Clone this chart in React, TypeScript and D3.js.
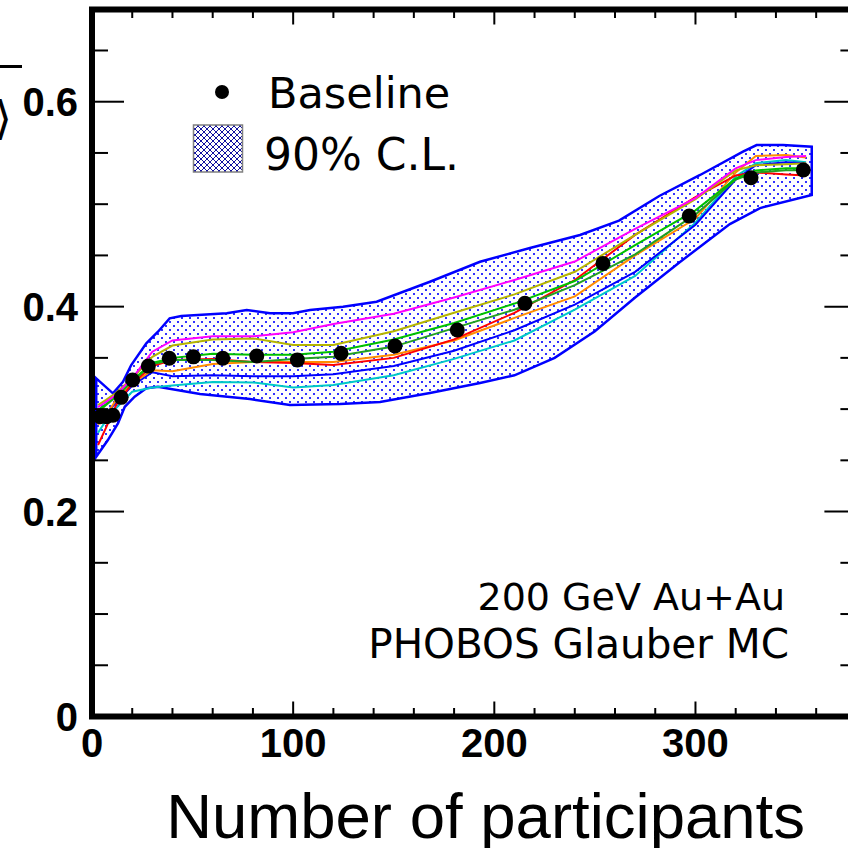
import React from "react";
import * as d3 from "d3";

// ---------- data ----------
const baselineN = [4.0, 7.2, 10.4, 14.5, 20.2, 28.0, 38.4, 50.4, 65.0, 81.9, 102.1, 123.8, 150.6, 181.6, 215.2, 254.0, 296.9, 327.6, 353.6];
const baselineV = [0.2926, 0.2926, 0.294, 0.3115, 0.3284, 0.342, 0.3496, 0.351, 0.3496, 0.3518, 0.348, 0.3544, 0.3616, 0.3772, 0.4032, 0.4422, 0.4884, 0.5258, 0.5334];

const bandUpperN = [2.1, 10.4, 15.4, 19.5, 27.0, 32.8, 38.6, 44.4, 67.0, 76.9, 88.5, 99.9, 108.4, 124.8, 141.5, 168.0, 192.9, 217.7, 242.6, 262.0, 282.0, 302.3, 323.6, 330.4, 343.5, 357.8];
const bandUpperV = [0.330, 0.3154, 0.3267, 0.343, 0.3642, 0.3755, 0.3886, 0.3908, 0.3935, 0.3967, 0.3935, 0.3935, 0.3967, 0.400, 0.4048, 0.4243, 0.4438, 0.4572, 0.4699, 0.4840, 0.5080, 0.5285, 0.5512, 0.5577, 0.5577, 0.5561];
const bandLowerN = [2.1, 7.9, 12.9, 16.3, 21.2, 27.0, 32.8, 53.7, 78.5, 98.4, 123.3, 143.2, 168.0, 192.9, 210.0, 230.0, 250.0, 270.0, 292.3, 317.1, 332.1, 357.8];
const bandLowerV = [0.2535, 0.2698, 0.2861, 0.3023, 0.3121, 0.3203, 0.3219, 0.3147, 0.3098, 0.304, 0.305, 0.3069, 0.3157, 0.3255, 0.3330, 0.3500, 0.3760, 0.4090, 0.4436, 0.4806, 0.4962, 0.5089];

const curveN = [3, 7, 12, 20, 30, 40, 60, 80, 100, 120, 150, 180, 210, 240, 270, 300, 320, 330, 345, 355];
const magentaV = [0.302, 0.307, 0.314, 0.330, 0.356, 0.367, 0.371, 0.371, 0.375, 0.383, 0.393, 0.409, 0.426, 0.444, 0.476, 0.506, 0.535, 0.543, 0.546, 0.547];
const oliveV = [0.304, 0.309, 0.316, 0.330, 0.351, 0.362, 0.368, 0.369, 0.3626, 0.3626, 0.376, 0.394, 0.412, 0.434, 0.47, 0.505, 0.533, 0.538, 0.539, 0.540];
const greenV = [0.299, 0.305, 0.313, 0.328, 0.345, 0.350, 0.354, 0.353, 0.353, 0.356, 0.368, 0.384, 0.403, 0.425, 0.46, 0.494, 0.525, 0.533, 0.535, 0.535];
const darkGreenV = [0.297, 0.304, 0.312, 0.327, 0.344, 0.348, 0.348, 0.346, 0.349, 0.351, 0.361, 0.379, 0.397, 0.421, 0.451, 0.490, 0.524, 0.531, 0.533, 0.533];
const redV = [0.265, 0.282, 0.304, 0.325, 0.342, 0.348, 0.349, 0.346, 0.345, 0.343, 0.350, 0.368, 0.394, 0.426, 0.47, 0.507, 0.528, 0.531, 0.529, 0.528];
const orangeV = [0.285, 0.294, 0.309, 0.325, 0.338, 0.337, 0.344, 0.346, 0.346, 0.346, 0.353, 0.367, 0.389, 0.41, 0.45, 0.486, 0.531, 0.547, 0.548, 0.5455];
const blueV = [0.29, 0.297, 0.306, 0.323, 0.336, 0.332, 0.333, 0.332, 0.332, 0.334, 0.342, 0.357, 0.377, 0.402, 0.434, 0.48, 0.524, 0.538, 0.541, 0.540];
const cyanV = [0.277, 0.289, 0.301, 0.317, 0.321, 0.323, 0.3265, 0.326, 0.321, 0.3235, 0.333, 0.349, 0.367, 0.397, 0.43, 0.482, 0.527, 0.54, 0.543, 0.541];

const curves = [
  { name: "cyan", color: "#00c8c8", values: cyanV },
  { name: "blue", color: "#0000ff", values: blueV },
  { name: "orange", color: "#ff8c00", values: orangeV },
  { name: "red", color: "#ff0000", values: redV },
  { name: "darkgreen", color: "#22a022", values: darkGreenV },
  { name: "green", color: "#00c000", values: greenV },
  { name: "olive", color: "#b4b400", values: oliveV },
  { name: "magenta", color: "#ff00ff", values: magentaV },
];

const xTickLabels = [0, 100, 200, 300];
const yTickLabels = [0, 0.2, 0.4, 0.6];
const legendLabels = ["Baseline", "90% C.L."];
const noteLines = ["200 GeV Au+Au", "PHOBOS Glauber MC"];
const xTitle = "Number of participants";

// ---------- layout ----------
const W = 848;
const H = 848;
const L = 92;
const R = 856.4;
const T = 9.5;
const B = 716.5;

export default function App() {
  const x = d3.scaleLinear().domain([0, 380]).range([L, R]);
  const y = d3.scaleLinear().domain([0, 0.69]).range([B, T]);

  const bandPts: [number, number][] = [
    ...bandUpperN.map((n, i) => [n, bandUpperV[i]] as [number, number]),
    ...bandLowerN.map((n, i) => [n, bandLowerV[i]] as [number, number]).reverse(),
  ];
  const poly = d3
    .line<[number, number]>()
    .x((d) => x(d[0]))
    .y((d) => y(d[1]));
  const bandPath = poly(bandPts) + "Z";

  const curveLine = d3
    .line<number>()
    .x((_, i) => x(curveN[i]))
    .y((d) => y(d));

  const xMinor = d3.range(20, 380, 20);
  const yMinor = d3.range(0.05, 0.69, 0.05);

  const tickFont = "'Liberation Sans', Arial, Helvetica, sans-serif";
  const textFont = "'DejaVu Sans', Verdana, sans-serif";

  return (
    <svg
      width={W}
      height={H}
      style={{ position: "absolute", left: 0, top: 0, display: "block", background: "#fff" }}
    >
      <defs>
        <pattern id="dots" width={8} height={8} patternUnits="userSpaceOnUse">
          <rect width={8} height={8} fill="#fff" />
          <rect x={1.1} y={1.1} width={1.8} height={1.8} fill="#0000ff" />
          <rect x={5.1} y={5.1} width={1.8} height={1.8} fill="#0000ff" />
        </pattern>
        <pattern id="hatch" width={6} height={6} patternUnits="userSpaceOnUse">
          <rect width={6} height={6} fill="#fff" />
          <path d="M0,0 L6,6 M6,0 L0,6" stroke="#1010a0" strokeWidth={1} />
        </pattern>
        <clipPath id="plotClip">
          <rect x={L} y={T} width={R - L} height={B - T} />
        </clipPath>
      </defs>

      <g clipPath="url(#plotClip)">
        <path d={bandPath} fill="url(#dots)" stroke="#0000ff" strokeWidth={2.5} strokeLinejoin="miter" />
        {curves.map((c) => (
          <path key={c.name} d={curveLine(c.values) || ""} fill="none" stroke={c.color} strokeWidth={2} />
        ))}
        {baselineN.map((n, i) => (
          <circle key={i} cx={x(n)} cy={y(baselineV[i])} r={7.5} fill="#000" />
        ))}
      </g>

      {/* ticks */}
      <g stroke="#000" strokeWidth={2}>
        {xMinor.map((v) => {
          const major = Math.abs(v % 100) < 1e-6;
          const len = major ? 15 : 8.5;
          return (
            <g key={"xt" + v}>
              <line x1={x(v)} x2={x(v)} y1={B} y2={B - len} />
              <line x1={x(v)} x2={x(v)} y1={T} y2={T + len} />
            </g>
          );
        })}
        {yMinor.map((v) => {
          const major = Math.abs((v / 0.2) - Math.round(v / 0.2)) < 1e-6;
          const len = major ? 32 : 16;
          return (
            <g key={"yt" + v}>
              <line x1={L} x2={L + len} y1={y(v)} y2={y(v)} />
              <line x1={R} x2={R - len} y1={y(v)} y2={y(v)} />
            </g>
          );
        })}
      </g>

      {/* frame */}
      <rect x={L} y={T} width={R - L} height={B - T} fill="none" stroke="#000" strokeWidth={6} />

      {/* tick labels */}
      <g fontFamily={tickFont} fontWeight="bold" fontSize={40} fill="#000">
        {xTickLabels.map((v) => (
          <text key={"xl" + v} x={x(v)} y={757} textAnchor="middle">
            {String(v)}
          </text>
        ))}
        {yTickLabels.map((v) => (
          <text key={"yl" + v} x={78} y={y(v) + 14.5} textAnchor="end">
            {v === 0 ? "0" : v.toFixed(1)}
          </text>
        ))}
      </g>

      {/* cut-off y-axis title fragment */}
      <line x1={0} x2={22} y1={66.5} y2={66.5} stroke="#000" strokeWidth={3} />
      <text x={12} y={134} fontFamily={textFont} fontSize={46} textAnchor="end" fill="#000">
        {"⟩"}
      </text>

      {/* x axis title */}
      <text x={805} y={838} fontFamily={tickFont} fontSize={63.5} textAnchor="end" fill="#000">
        {xTitle}
      </text>

      {/* legend */}
      <circle cx={222} cy={92} r={7} fill="#000" />
      <text x={268} y={108} fontFamily={textFont} fontSize={43} fill="#000">
        {legendLabels[0]}
      </text>
      <rect x={193.5} y={125} width={49} height={47} fill="url(#hatch)" stroke="#808080" strokeWidth={1.5} />
      <text x={264} y={170} fontFamily={textFont} fontSize={44} fill="#000">
        {legendLabels[1]}
      </text>

      {/* note */}
      <g fontFamily={textFont} fill="#000" textAnchor="end">
        <text x={785} y={610} fontSize={38}>{noteLines[0]}</text>
        <text x={789} y={658} fontSize={40.5}>{noteLines[1]}</text>
      </g>
    </svg>
  );
}
